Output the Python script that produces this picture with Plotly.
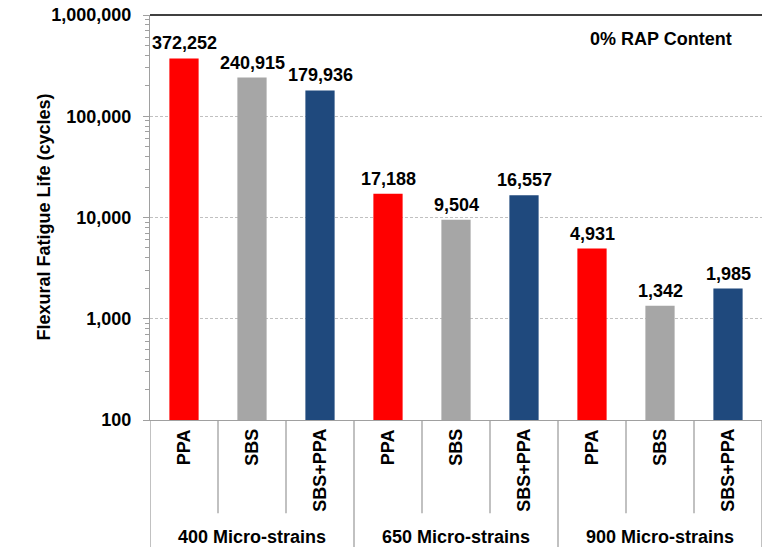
import math
import plotly.graph_objects as go

groups = ["400 Micro-strains", "650 Micro-strains", "900 Micro-strains"]
binders = ["PPA", "SBS", "SBS+PPA"]
values = {
    "PPA": [372252, 17188, 4931],
    "SBS": [240915, 9504, 1342],
    "SBS+PPA": [179936, 16557, 1985],
}
colors = {"PPA": "#FF0000", "SBS": "#A6A6A6", "SBS+PPA": "#1F497D"}
yticks = [100, 1000, 10000, 100000, 1000000]
yticklabels = ["100", "1,000", "10,000", "100,000", "1,000,000"]

FONT = "Liberation Sans, Arial, sans-serif"
FS = 18

xs, ys, cs, ts = [], [], [], []
for gi, g in enumerate(groups):
    for b in binders:
        xs.append(len(xs))
        ys.append(values[b][gi])
        cs.append(colors[b])
        ts.append(f"{values[b][gi]:,}")

fig = go.Figure()
fig.add_trace(go.Bar(
    x=xs, y=ys, marker=dict(color=cs, line=dict(width=0)),
    width=0.43, hoverinfo="x+y",
))

n = len(xs)
shapes = []
shapes.append(dict(type="line", xref="paper", yref="paper", x0=0, x1=1, y0=1, y1=1,
                   line=dict(color="black", width=1.3)))
for i in range(n + 1):
    is_group = (i % 3 == 0)
    shapes.append(dict(type="line", xref="x", yref="paper",
                       x0=i - 0.5, x1=i - 0.5, y0=0,
                       y1=-0.23 if not is_group else -0.32,
                       line=dict(color="#A0A0A0", width=1.3)))

annotations = []
for i in range(n):
    annotations.append(dict(x=xs[i], xref="x", y=math.log10(ys[i]), yref="y", text=ts[i],
                            showarrow=False, xanchor="center", yanchor="bottom", yshift=3,
                            font=dict(family=FONT, size=FS, color="black", weight="bold")))
    annotations.append(dict(x=i, xref="x", y=-0.018, yref="paper", text=binders[i % 3],
                            showarrow=False, textangle=-90, xanchor="center", yanchor="top",
                            font=dict(family=FONT, size=FS, color="black", weight="bold")))
for gi, g in enumerate(groups):
    annotations.append(dict(x=gi * 3 + 1, xref="x", y=-0.288, yref="paper", text=g,
                            showarrow=False, xanchor="center", yanchor="middle",
                            font=dict(family=FONT, size=FS, color="black", weight="bold")))
annotations.append(dict(x=0.835, xref="paper", y=0.941, yref="paper", text="0% RAP Content",
                        showarrow=False, xanchor="center", yanchor="middle",
                        font=dict(family=FONT, size=FS, color="black", weight="bold")))
annotations.append(dict(x=-(150 - 43) / 612, xref="paper", y=0.5, yref="paper",
                        text="Flexural Fatigue Life (cycles)", textangle=-90,
                        showarrow=False, xanchor="center", yanchor="middle",
                        font=dict(family=FONT, size=FS, color="black", weight="bold")))

fig.update_layout(
    width=762, height=547,
    margin=dict(l=150, r=0, t=15, b=127),
    paper_bgcolor="white", plot_bgcolor="white",
    showlegend=False,
    xaxis=dict(range=[-0.5, n - 0.5], showticklabels=False, ticks="",
               showline=True, linecolor="#A0A0A0", linewidth=1.3, showgrid=False,
               zeroline=False, fixedrange=True),
    yaxis=dict(type="log", range=[2, 6], tickvals=yticks, ticktext=yticklabels,
               ticks="outside", ticklen=6, tickcolor="#A0A0A0", tickwidth=1,
               ticklabelstandoff=8,
               showline=True, linecolor="#A0A0A0", linewidth=1.3,
               showgrid=True, gridcolor="#C0C0C0", griddash="3px,2px", gridwidth=1,
               minor=dict(ticks="outside", ticklen=4, tickcolor="#A0A0A0",
                          showgrid=False, dtick="D1"),
               tickfont=dict(family=FONT, size=FS, color="black", weight="bold"),
               zeroline=False),
    shapes=shapes, annotations=annotations,
)

fig.write_html("out.html")
